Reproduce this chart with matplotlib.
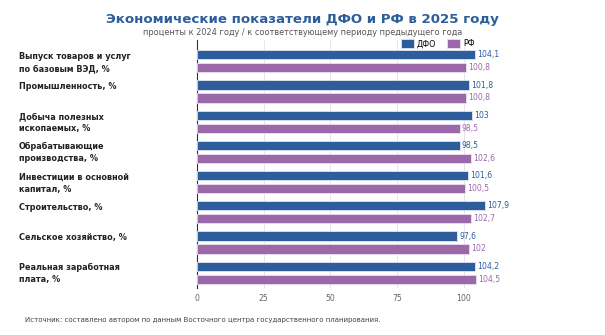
import matplotlib.pyplot as plt
import matplotlib.transforms as mtransforms
import numpy as np

categories = [
    'Выпуск товаров и услуг\nпо базовым ВЭД, %',
    'Промышленность, %',
    'Добыча полезных\nископаемых, %',
    'Обрабатывающие\nпроизводства, %',
    'Инвестиции в основной\nкапитал, %',
    'Строительство, %',
    'Сельское хозяйство, %',
    'Реальная заработная\nплата, %',
]
dfo = [104.1, 101.8, 103, 98.5, 101.6, 107.9, 97.6, 104.2]
rf = [100.8, 100.8, 98.5, 102.6, 100.5, 102.7, 102, 104.5]
series_names = ['ДФО', 'РФ']
colors = ['#2d5d9b', '#9b69aa']


def fmt(v):
    return ('%g' % v).replace('.', ',')


fig = plt.figure(figsize=(6.05, 3.35), dpi=100)
ax = fig.add_axes([0.3256, 0.140, 0.56, 0.741])

y = np.arange(len(categories))
h = 0.30
off = 0.215
b1 = ax.barh(y - off, dfo, height=h, color=colors[0], edgecolor='#dfe6f0', linewidth=0.6,
             label=series_names[0], zorder=3)
b2 = ax.barh(y + off, rf, height=h, color=colors[1], edgecolor='#ece0f0', linewidth=0.6,
             label=series_names[1], zorder=3)

for bars, vals, c in [(b1, dfo, colors[0]), (b2, rf, colors[1])]:
    for b, v in zip(bars, vals):
        ax.text(v + 0.8, b.get_y() + b.get_height() / 2, fmt(v), color=c, fontsize=5.6,
                va='center', ha='left')

ax.set_xlim(0, 127)
ax.set_ylim(len(categories) - 0.49, -0.71)
ax.set_xticks([0, 25, 50, 75, 100])
ax.tick_params(axis='x', length=0, labelsize=5.6, labelcolor='#666666', pad=4)
ax.set_yticks([])
ax.grid(axis='x', color='#e6e6e6', linewidth=0.7, zorder=0)
for s in ['top', 'right', 'bottom']:
    ax.spines[s].set_visible(False)
ax.spines['left'].set_color('#333333')
ax.spines['left'].set_linewidth(0.8)

# category names on the left, in figure x / data y
trans = mtransforms.blended_transform_factory(fig.transFigure, ax.transData)
for yi, cat in zip(y, categories):
    ax.text(0.031, yi - 0.32, cat, transform=trans, fontsize=5.9, fontweight='bold',
            color='#222222', va='top', ha='left', linespacing=1.45)

fig.text(0.5, 0.942, 'Экономические показатели ДФО и РФ в 2025 году', ha='center', va='center',
         fontsize=9.6, fontweight='bold', color='#2d5d9b')
fig.text(0.5, 0.902, 'проценты к 2024 году / к соответствующему периоду предыдущего года', ha='center',
         va='center', fontsize=5.9, color='#555555')

ax.legend(loc='upper left', bbox_to_anchor=(0.657, 0.893), bbox_transform=fig.transFigure, ncol=2,
          frameon=False, fontsize=5.8, handlelength=1.7, handleheight=1.3, columnspacing=1.3,
          handletextpad=0.3, borderaxespad=0)

fig.text(0.041, 0.045, 'Источник: составлено автором по данным Восточного центра государственного планирования.',
         fontsize=5.0, color='#444444', va='center', ha='left')

plt.savefig('out.png', dpi=100)
